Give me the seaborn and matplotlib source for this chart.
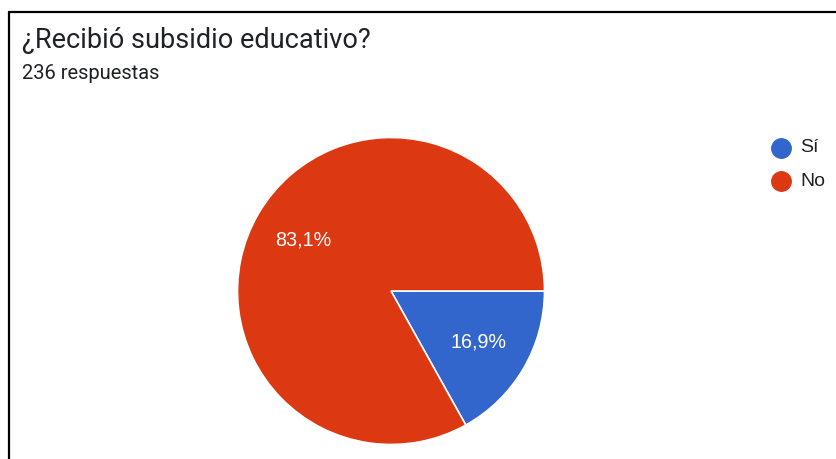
import matplotlib
matplotlib.use("Agg")
import matplotlib.pyplot as plt
from matplotlib.lines import Line2D
import seaborn as sns

titulo = "¿Recibió subsidio educativo?"
subtitulo = "236 respuestas"
categorias = ["Sí", "No"]
porcentajes = [16.9, 83.1]
colores = ["#3366CC", "#DC3912"]

sns.set_theme(style="white")
plt.rcParams['font.family'] = ['Roboto', 'DejaVu Sans']

fig = plt.figure(figsize=(8.36, 4.59), dpi=100)

# marco superior e izquierdo
fig.add_artist(Line2D([8.5/836, 1], [1-11.5/459, 1-11.5/459], color="black", lw=1.6))
fig.add_artist(Line2D([8.5/836, 8.5/836], [0, 1-11.5/459], color="black", lw=1.6))

fig.text(22/836, 1-47.5/459, titulo, fontsize=19.5, color="#202124", va="baseline")
fig.text(22/836, 1-79/459, subtitulo, fontsize=14.5, color="#202124", va="baseline")

ax = fig.add_axes([237.5/836, 14.5/459, 307/836, 307/459])
wedges, textos, autotextos = ax.pie(
    porcentajes, colors=colores, startangle=0, counterclock=False,
    autopct=lambda p: f"{p:.1f}%".replace(".", ","), pctdistance=0.66,
    wedgeprops=dict(edgecolor="white", linewidth=1.2),
    textprops=dict(color="white", fontsize=14.2, family=["Liberation Sans", "DejaVu Sans"]),
)
ax.set_xlim(-1, 1)
ax.set_ylim(-1, 1)
ax.set_aspect("equal")
ax.axis("off")

for i, (cat, col) in enumerate(zip(categorias, colores)):
    y = 1 - (148 + 33*i)/459
    fig.add_artist(Line2D([781/836], [y], marker="o", markersize=14, color=col, lw=0))
    fig.text(800/836, y, cat, fontsize=14, color="#212121", va="center",
             family=["Liberation Sans", "DejaVu Sans"])

fig.savefig("out.png", dpi=100)
